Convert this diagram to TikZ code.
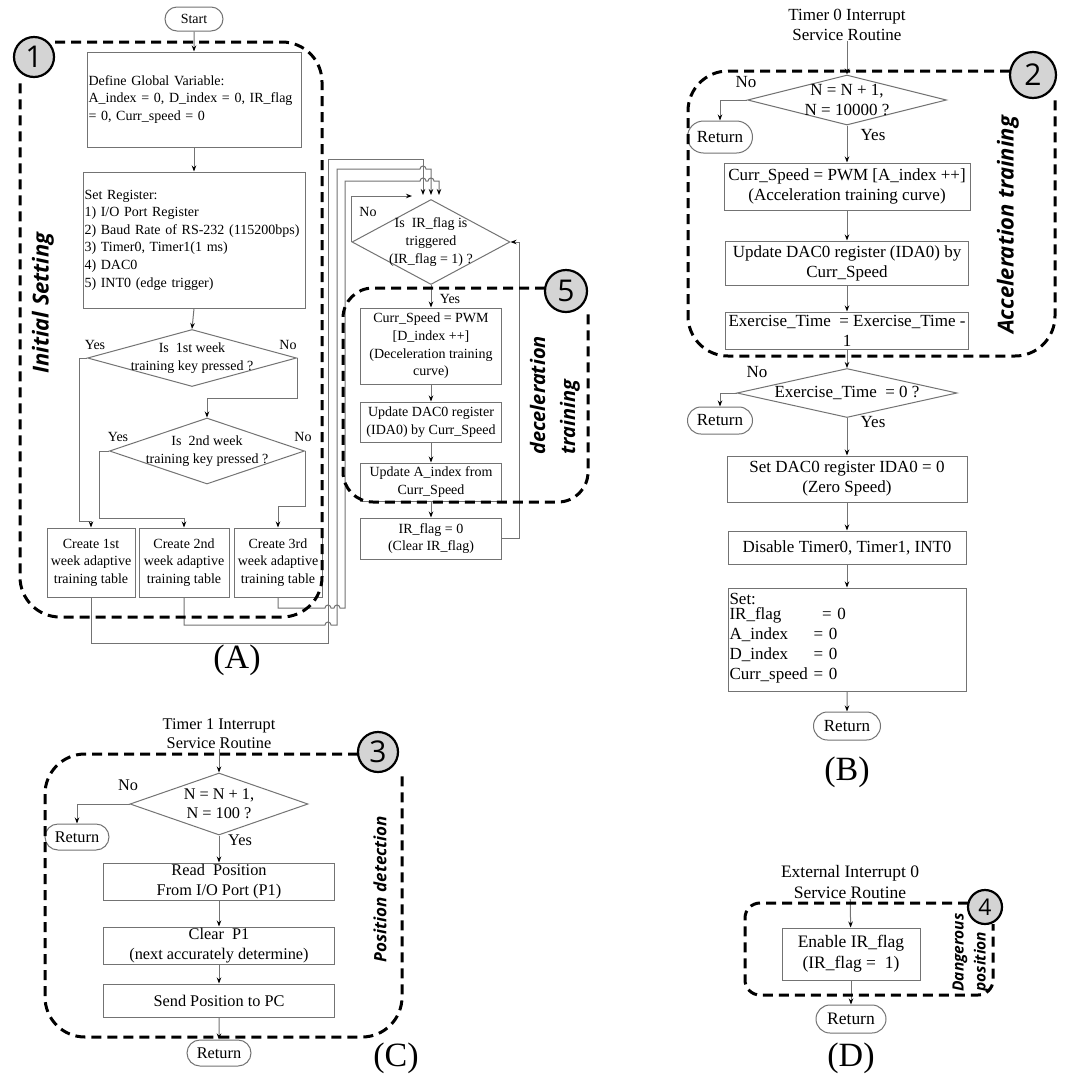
\documentclass[tikz,border=0pt]{standalone}
\usepackage{fontspec}
\setmainfont{Liberation Serif}
\newfontfamily\titlefont{Open Sans}
\usetikzlibrary{shapes.geometric,shapes.misc,arrows.meta,positioning}
\definecolor{linegray}{RGB}{115,115,115}
\definecolor{taggray}{RGB}{212,212,212}
\newcommand{\panelA}{\fontsize{14}{17.6}\selectfont}
\newcommand{\panelB}{\fontsize{17}{20}\selectfont}
\newcommand{\panelC}{\fontsize{16.3}{19.3}\selectfont}
\newcommand{\panelD}{\fontsize{17.5}{21}\selectfont}
\tikzset{
    box/.style={rectangle, draw=linegray, line width=1pt, inner xsep=0.5pt, inner ysep=1pt, align=center},
    lbox/.style={box, inner xsep=1.5pt, align=left},
    term/.style={rounded rectangle, draw=linegray, line width=1pt, inner sep=0pt, minimum width=65pt, minimum height=27pt},
    dec/.style={diamond, draw=linegray, line width=1pt, inner sep=0pt},
    ans/.style={inner sep=0pt},
    zone/.style={draw=black, line width=3pt, dash pattern=on 10pt off 6pt, rounded corners=40pt},
    numtag/.style={circle, draw=black, line width=2.2pt, fill=taggray, inner sep=0pt, font=\titlefont\fontsize{30}{30}\selectfont},
    banner/.style={rotate=90, inner sep=0pt, align=left, font=\titlefont\bfseries\itshape\fontsize{22}{26}\selectfont},
    arrow/.style={draw=linegray, line width=1pt, -{Stealth[length=6pt,width=4.5pt,color=black]}},
    panelcap/.style={inner sep=0pt, font=\fontsize{34}{34}\selectfont}
}
\begin{document}
\begin{tikzpicture}[x=1pt, y=-1pt]
\path[use as bounding box, fill=white] (0,0) rectangle (1067,1080);

% (A) main program
\begin{scope}[font=\panelA]
\node[term, minimum width=58pt, minimum height=24pt] (start) at (194,19) {Start};
\node[lbox, minimum height=95pt, text width=211pt] (define) at (194,99.5) {Define Global Variable:\\A\_index = 0, D\_index = 0, IR\_flag\\= 0, Curr\_speed = 0};
\node[lbox, minimum height=136pt, text width=219pt] (setreg) at (194,240) {Set Register:\\1) I/O Port Register\\2) Baud Rate of RS-232 (115200bps)\\3) Timer0, Timer1(1 ms)\\4) DAC0\\5) INT0 (edge trigger)};
\node[dec, minimum width=209pt, minimum height=57pt] (wk1) at (192,358) {};
\node (wk1txt) at (wk1) [align=center, inner sep=0pt] {Is\ \ 1st week\\training key pressed ?};
\node[dec, minimum width=195pt, minimum height=66pt] (wk2) at (207,451) {};
\node (wk2txt) at (wk2) [align=center, inner sep=0pt] {Is\ \ 2nd week\\training key pressed ?};
\node[box, minimum width=88pt, minimum height=69pt] (tab1) at (91,562.5) {Create 1st\\week adaptive\\training table};
\node[box, minimum width=90pt, minimum height=69pt] (tab2) at (184,562.5) {Create 2nd\\week adaptive\\training table};
\node[box, minimum width=88pt, minimum height=69pt] (tab3) at (278,562.5) {Create 3rd\\week adaptive\\training table};
\node[ans] (wk1yes) at (95,345) {Yes};
\node[ans] (wk1no) at (288,345) {No};
\node[ans] (wk2yes) at (118,437) {Yes};
\node[ans] (wk2no) at (303,437) {No};

% deceleration loop
\node[dec, minimum width=158pt, minimum height=85pt] (irq) at (431,242) {};
\node (irqtxt) at (irq) [align=center, inner sep=0pt] {Is\ \ IR\_flag is\\triggered\\(IR\_flag = 1) ?};
\node[box, minimum width=141pt, minimum height=76pt] (dspd) at (431,346) {Curr\_Speed = PWM\\{[}D\_index ++]\\(Deceleration training\\curve)};
\node[box, minimum width=141pt, minimum height=40pt] (ddac) at (431,422) {Update DAC0 register\\(IDA0) by Curr\_Speed};
\node[box, minimum width=141pt, minimum height=38pt] (aidx) at (431,482) {Update A\_index from\\Curr\_Speed};
\node[box, minimum width=141pt, minimum height=41pt] (clr) at (431,538.5) {IR\_flag = 0\\(Clear IR\_flag)};
\node[ans] (irqno) at (368,212) {No};
\node[ans] (irqyes) at (450,299) {Yes};

\draw[arrow] (start) -- (define);
\draw[arrow] (define) -- (setreg);
\draw[arrow] (setreg.south) -- (wk1.north);
\draw[arrow] (wk1.west) -- ++(-8,0) |- ([yshift=6pt]tab1.north) -- (tab1.north);
\draw[arrow] (wk1.east) |- ([yshift=19pt]wk2.north) -- (wk2.north);
\draw[arrow] (wk2.west) -- ++(-10,0) |- ([yshift=9pt]tab2.north) -- (tab2.north);
\draw[arrow] (wk2.east) |- ([yshift=21pt]tab3.north) -- (tab3.north);
\draw[arrow] (tab1.south) |- (328,643) -- (328,159) -| ([xshift=-8pt,yshift=4pt]irq.north);
\draw[arrow] (tab2.south) |- (325,625) arc[start angle=180,end angle=0,radius=3pt] -- (337,625) -- (337,169) -- (420,169) arc[start angle=180,end angle=0,radius=3pt] -| ([yshift=4pt]irq.north);
\draw[arrow] (tab3.south) |- (325,608) arc[start angle=180,end angle=0,radius=3pt] -- (334,608) arc[start angle=180,end angle=0,radius=3pt] -- (345,608) -- (345,181) -- (420,181) arc[start angle=180,end angle=0,radius=3pt] -- (428,181) arc[start angle=180,end angle=0,radius=3pt] -| ([xshift=8pt,yshift=4pt]irq.north);
\draw[arrow] (irq.west) |- ([xshift=-19pt,yshift=3pt]irq.north);
\draw[arrow] (irq.south) -- (dspd.north);
\draw[arrow] (dspd) -- (ddac);
\draw[arrow] (ddac) -- (aidx);
\draw[arrow] (aidx) -- (clr);
\draw[arrow] (clr.east) -- ++(17,0) |- (irq.east);

\node[numtag, minimum size=40pt] (tag1) at (34,57) {1};
\draw[zone] (55,42) -- (322,42) -- (322,617) -- (20,617) -- (20,78);
\node[banner] (initset) at (43,303) {Initial Setting};
\node[numtag, minimum size=42pt] (tag5) at (566,291) {5};
\draw[zone, rounded corners=30pt] (545,288) -- (343,288) -- (343,502) -- (588,502) -- (588,312);
\node[banner, font=\titlefont\bfseries\itshape\fontsize{20}{30}\selectfont] (decel) at (555,395.5) {deceleration\\training};
\node[panelcap] (capA) at (237,660) {(A)};
\end{scope}

% (B) timer 0 interrupt
\begin{scope}[font=\panelB]
\node[align=center, inner sep=0pt] (t0title) at (847,25) {Timer 0 Interrupt\\Service Routine};
\node[dec, minimum width=199pt, minimum height=50pt] (d0) at (847,100) {};
\node (d0txt) at (d0) [align=center, inner sep=0pt] {N = N + 1,\\N = 10000 ?};
\node[term, minimum height=32pt] (ret0a) at (720,137) {Return};
\node[box, minimum width=246pt, minimum height=47pt] (aspd) at (847,186.5) {Curr\_Speed = PWM [A\_index ++]\\(Acceleration training curve)};
\node[box, minimum width=243pt, minimum height=44pt] (adac) at (847,263) {Update DAC0 register (IDA0) by\\Curr\_Speed};
\node[box, minimum width=243pt, minimum height=37pt, inner ysep=0pt] (exer) at (847,330.5) {Exercise\_Time\ \ = Exercise\_Time -\\1};
\node[dec, minimum width=220pt, minimum height=49pt] (d1) at (847,393) {};
\node (d1txt) at (d1) [inner sep=0pt] {Exercise\_Time\ \ = 0 ?};
\node[term] (ret0b) at (720,420.5) {Return};
\node[box, minimum width=240pt, minimum height=46pt] (zero) at (847,479) {Set DAC0 register IDA0 = 0\\(Zero Speed)};
\node[box, minimum width=238pt, minimum height=33pt] (dis) at (847,547.5) {Disable Timer0, Timer1, INT0};
\node[lbox, minimum height=103pt, text width=235pt] (rst) at (847,639.5) {Set:\\\begin{tabular}{@{}l@{\ }l@{}}IR\_flag & \ \,= 0\\A\_index & = 0\\D\_index & = 0\\Curr\_speed & = 0\end{tabular}};
\node[term, minimum width=67pt, minimum height=28pt] (ret0c) at (847,726) {Return};
\node[ans] (d0no) at (746,82) {No};
\node[ans] (d0yes) at (873,135) {Yes};
\node[ans] (d1no) at (757,372) {No};
\node[ans] (d1yes) at (873,422) {Yes};

\draw[arrow] (t0title) -- (d0);
\draw[arrow] (d0.west) -| (ret0a.north);
\draw[arrow] (d0.south) -- (aspd.north);
\draw[arrow] (aspd) -- (adac);
\draw[arrow] (adac) -- (exer);
\draw[arrow] (exer.south) -- (d1.north);
\draw[arrow] (d1.west) -| (ret0b.north);
\draw[arrow] (d1.south) -- (zero.north);
\draw[arrow] (zero) -- (dis);
\draw[arrow] (dis) -- (rst);
\draw[arrow] (rst) -- (ret0c);

\node[numtag, minimum size=46pt] (tag2) at (1033,75) {2};
\draw[zone] (1010,71) -- (688,71) -- (688,356) -- (1055,356) -- (1055,98);
\node[banner] (accel) at (1008,225) {Acceleration training};
\node[panelcap] (capB) at (847,772) {(B)};
\end{scope}

% (C) timer 1 interrupt
\begin{scope}[font=\panelC]
\node[align=center, inner sep=0pt] (t1title) at (219,734) {Timer 1 Interrupt\\Service Routine};
\node[dec, minimum width=178pt, minimum height=62pt] (dn) at (219,804) {};
\node (dntxt) at (dn) [align=center, inner sep=0pt] {N = N + 1,\\N = 100 ?};
\node[term, minimum width=64pt, minimum height=26pt] (ret1a) at (77,837) {Return};
\node[box, minimum width=231pt, minimum height=37pt, inner ysep=0pt] (rpos) at (219,881.5) {Read\ \ Position\\From I/O Port (P1)};
\node[box, minimum width=231pt, minimum height=37pt, inner ysep=0pt] (clrp) at (219,945.5) {Clear\ \ P1\\(next accurately determine)};
\node[box, minimum width=231pt, minimum height=33pt] (send) at (219,1000.5) {Send Position to PC};
\node[term, minimum width=64pt, minimum height=26pt] (ret1b) at (219,1053) {Return};
\node[ans] (dnno) at (128,785) {No};
\node[ans] (dnyes) at (240,840) {Yes};

\draw[arrow] (t1title) -- (dn);
\draw[arrow] (dn.west) -| (ret1a.north);
\draw[arrow] (dn.south) -- (rpos.north);
\draw[arrow] (rpos) -- (clrp);
\draw[arrow] (clrp) -- (send);
\draw[arrow] (send) -- (ret1b);

\node[numtag, minimum size=40pt] (tag3) at (378,752) {3};
\draw[zone] (358,754) -- (45,754) -- (45,1037) -- (402,1037) -- (402,772);
\node[banner, font=\titlefont\bfseries\itshape\fontsize{17}{20}\selectfont] (posdet) at (380,889) {Position detection};
\node[panelcap] (capC) at (396,1058) {(C)};
\end{scope}

% (D) external interrupt 0
\begin{scope}[font=\panelD]
\node[align=center, inner sep=0pt] (t2title) at (850,882) {External Interrupt 0\\Service Routine};
\node[box, minimum width=138pt, minimum height=52pt] (ena) at (851,954) {Enable IR\_flag\\(IR\_flag =\ \ 1)};
\node[term, minimum width=70pt, minimum height=28pt] (ret2) at (851,1019) {Return};

\draw[arrow] (t2title) -- (ena);
\draw[arrow] (ena) -- (ret2);

\node[numtag, minimum size=34pt, font=\titlefont\fontsize{23}{23}\selectfont] (tag4) at (985,907) {4};
\draw[zone, rounded corners=15pt] (968,903) -- (745,903) -- (745,995) -- (993,995) -- (993,924);
\node[banner, font=\titlefont\bfseries\itshape\fontsize{15.5}{22}\selectfont] (danger) at (971,952.5) {Dangerous\\position};
\node[panelcap] (capD) at (851,1058) {(D)};
\end{scope}
\end{tikzpicture}
\end{document}
